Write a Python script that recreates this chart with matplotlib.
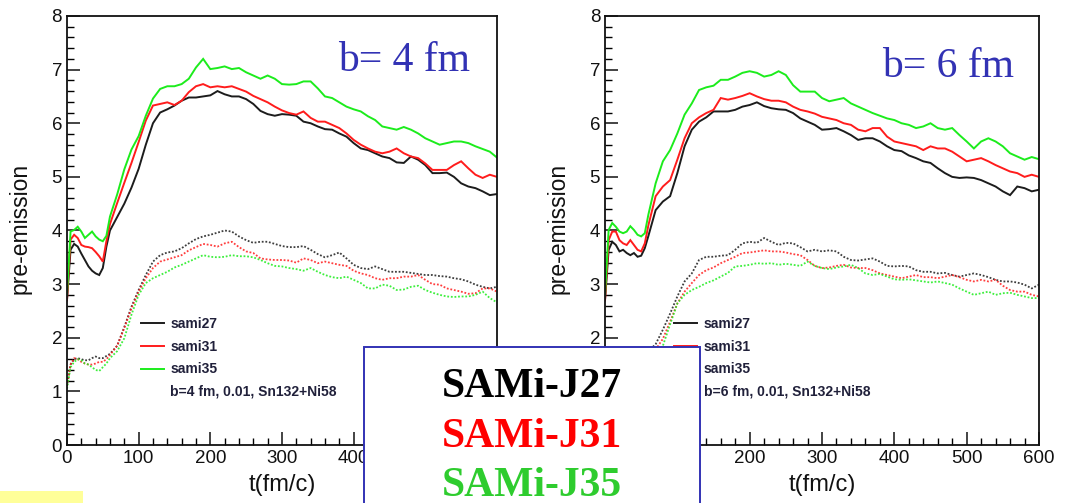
import matplotlib
matplotlib.use("Agg")
import matplotlib.pyplot as plt
from matplotlib.lines import Line2D
from matplotlib.patches import Rectangle
from matplotlib.ticker import MultipleLocator

# ---------------- data ----------------
t = [0, 5, 10, 15, 20, 25, 30, 35, 40, 45, 50, 55, 60,
     70, 80, 90, 100, 110, 120, 130, 140, 150, 160, 170, 180, 190, 200,
     210, 220, 230, 240, 250, 260, 270, 280, 290, 300, 310, 320, 330, 340,
     350, 360, 370, 380, 390, 400, 410, 420, 430, 440, 450, 460, 470, 480,
     490, 500, 510, 520, 530, 540, 550, 560, 570, 580, 590, 600]

# b = 4 fm, solid (upper) curves
b4_sami27 = [2.7, 3.64, 3.75, 3.7, 3.57, 3.45, 3.33, 3.25, 3.2, 3.17, 3.3, 3.7, 4.0,
             4.25, 4.5, 4.8, 5.15, 5.6, 6.0, 6.2, 6.26, 6.33, 6.42, 6.48, 6.48, 6.5, 6.52,
             6.6, 6.54, 6.5, 6.5, 6.45, 6.36, 6.23, 6.17, 6.14, 6.17, 6.16, 6.14, 6.03, 6.0,
             5.94, 5.89, 5.88, 5.81, 5.75, 5.63, 5.53, 5.5, 5.44, 5.38, 5.35, 5.27, 5.26, 5.38,
             5.32, 5.22, 5.07, 5.07, 5.08, 5.0, 4.88, 4.82, 4.79, 4.73, 4.66, 4.68]
b4_sami31 = [2.7, 3.83, 3.92, 3.86, 3.73, 3.7, 3.69, 3.67, 3.6, 3.52, 3.42, 3.8, 4.12,
             4.51, 4.89, 5.26, 5.65, 6.05, 6.33, 6.36, 6.39, 6.34, 6.42, 6.58, 6.69, 6.73, 6.67,
             6.69, 6.67, 6.69, 6.64, 6.59, 6.51, 6.45, 6.39, 6.31, 6.24, 6.19, 6.16, 6.22, 6.1,
             6.03, 6.03, 5.97, 5.91, 5.81, 5.69, 5.6, 5.53, 5.47, 5.44, 5.47, 5.53, 5.44, 5.38,
             5.35, 5.25, 5.13, 5.13, 5.13, 5.22, 5.29, 5.16, 5.04, 4.98, 5.04, 5.0]
b4_sami35 = [2.8, 3.98, 4.01, 4.07, 3.98, 3.86, 3.92, 3.98, 3.89, 3.83, 3.8, 3.9, 4.26,
             4.67, 5.14, 5.51, 5.76, 6.14, 6.46, 6.64, 6.69, 6.69, 6.73, 6.83, 7.04, 7.2, 7.01,
             7.03, 7.06, 7.01, 7.03, 6.95, 6.89, 6.83, 6.89, 6.83, 6.73, 6.72, 6.73, 6.78, 6.78,
             6.65, 6.5, 6.47, 6.39, 6.31, 6.26, 6.22, 6.13, 6.06, 5.94, 5.91, 5.88, 5.93, 5.88,
             5.81, 5.72, 5.66, 5.6, 5.63, 5.66, 5.66, 5.63, 5.57, 5.52, 5.47, 5.36]
# b = 4 fm, dotted (lower) curves
b4_sami27_low = [1.1, 1.5, 1.6, 1.62, 1.6, 1.58, 1.58, 1.62, 1.65, 1.62, 1.62, 1.66, 1.7,
                 1.85, 2.2, 2.58, 2.89, 3.17, 3.42, 3.54, 3.59, 3.61, 3.67, 3.76, 3.84, 3.89, 3.92,
                 3.96, 4.0, 3.98, 3.89, 3.82, 3.77, 3.79, 3.79, 3.75, 3.71, 3.69, 3.69, 3.71, 3.64,
                 3.56, 3.5, 3.54, 3.59, 3.48, 3.36, 3.3, 3.28, 3.33, 3.28, 3.23, 3.23, 3.23, 3.21,
                 3.19, 3.17, 3.17, 3.15, 3.14, 3.11, 3.09, 3.05, 2.99, 2.95, 2.92, 2.95]
b4_sami31_low = [1.1, 1.5, 1.62, 1.6, 1.55, 1.52, 1.5, 1.5, 1.52, 1.55, 1.55, 1.6, 1.68,
                 1.85, 2.18, 2.55, 2.86, 3.11, 3.3, 3.42, 3.46, 3.5, 3.54, 3.63, 3.69, 3.75, 3.73,
                 3.7, 3.76, 3.79, 3.69, 3.61, 3.58, 3.48, 3.46, 3.45, 3.45, 3.44, 3.4, 3.48, 3.45,
                 3.39, 3.42, 3.39, 3.36, 3.34, 3.25, 3.2, 3.17, 3.11, 3.08, 3.11, 3.11, 3.14, 3.14,
                 3.17, 3.08, 3.0, 2.99, 2.92, 2.89, 2.86, 2.82, 2.83, 2.92, 2.92, 2.86]
b4_sami35_low = [1.05, 1.45, 1.55, 1.6, 1.58, 1.52, 1.5, 1.45, 1.4, 1.38, 1.45, 1.52, 1.62,
                 1.75, 1.99, 2.43, 2.8, 3.02, 3.11, 3.17, 3.23, 3.31, 3.36, 3.42, 3.48, 3.54, 3.51,
                 3.5, 3.51, 3.54, 3.52, 3.52, 3.5, 3.45, 3.39, 3.34, 3.33, 3.3, 3.28, 3.25, 3.3,
                 3.23, 3.17, 3.13, 3.11, 3.14, 3.08, 3.02, 2.92, 2.92, 2.99, 2.97, 2.89, 2.9, 2.95,
                 2.97, 2.89, 2.84, 2.8, 2.77, 2.76, 2.77, 2.77, 2.8, 2.86, 2.74, 2.66]

# b = 6 fm, solid (upper) curves
b6_sami27 = [2.7, 3.64, 3.79, 3.73, 3.61, 3.64, 3.58, 3.54, 3.58, 3.51, 3.53, 3.67, 3.9,
             4.38, 4.54, 4.64, 5.07, 5.57, 5.88, 6.03, 6.11, 6.22, 6.22, 6.22, 6.25, 6.31, 6.34,
             6.39, 6.32, 6.28, 6.26, 6.25, 6.19, 6.09, 6.03, 5.97, 5.88, 5.89, 5.91, 5.85, 5.78,
             5.69, 5.72, 5.72, 5.66, 5.57, 5.5, 5.48, 5.4, 5.35, 5.29, 5.26, 5.16, 5.07, 5.0,
             4.98, 4.99, 4.98, 4.94, 4.88, 4.82, 4.73, 4.66, 4.82, 4.79, 4.73, 4.76]
b6_sami31 = [2.7, 3.82, 3.98, 3.98, 3.82, 3.76, 3.73, 3.82, 3.73, 3.64, 3.61, 3.76, 4.1,
             4.64, 4.82, 4.94, 5.32, 5.72, 6.0, 6.11, 6.19, 6.25, 6.47, 6.44, 6.47, 6.51, 6.56,
             6.5, 6.45, 6.42, 6.42, 6.39, 6.31, 6.25, 6.22, 6.18, 6.12, 6.09, 6.06, 6.0, 5.97,
             5.88, 5.85, 5.91, 5.91, 5.75, 5.66, 5.63, 5.6, 5.57, 5.5, 5.57, 5.53, 5.53, 5.47,
             5.38, 5.29, 5.32, 5.35, 5.29, 5.22, 5.16, 5.1, 5.07, 5.0, 5.04, 5.0]
b6_sami35 = [2.8, 4.01, 4.14, 4.07, 3.98, 3.95, 3.98, 4.08, 4.01, 3.92, 3.89, 3.95, 4.3,
             4.88, 5.29, 5.5, 5.81, 6.16, 6.37, 6.62, 6.67, 6.7, 6.81, 6.81, 6.87, 6.94, 6.97,
             6.94, 6.87, 6.9, 6.97, 6.9, 6.71, 6.59, 6.59, 6.59, 6.47, 6.41, 6.44, 6.47, 6.37,
             6.31, 6.25, 6.19, 6.14, 6.09, 6.06, 6.0, 5.97, 5.91, 5.94, 6.0, 5.91, 5.88, 5.91,
             5.78, 5.66, 5.53, 5.66, 5.72, 5.66, 5.57, 5.44, 5.38, 5.32, 5.37, 5.33]
# b = 6 fm, dotted (lower) curves
b6_sami27_low = [1.1, 1.5, 1.6, 1.62, 1.6, 1.6, 1.62, 1.64, 1.66, 1.68, 1.7, 1.72, 1.75,
                 1.88, 2.15, 2.45, 2.77, 3.05, 3.2, 3.45, 3.51, 3.51, 3.53, 3.54, 3.64, 3.76, 3.79,
                 3.77, 3.86, 3.79, 3.73, 3.77, 3.76, 3.69, 3.61, 3.64, 3.61, 3.63, 3.61, 3.51, 3.45,
                 3.44, 3.46, 3.48, 3.42, 3.34, 3.33, 3.34, 3.33, 3.26, 3.23, 3.23, 3.2, 3.21, 3.17,
                 3.14, 3.17, 3.2, 3.17, 3.13, 3.08, 3.05, 3.05, 3.03, 2.99, 2.92, 2.99]
b6_sami31_low = [1.1, 1.45, 1.55, 1.55, 1.52, 1.52, 1.55, 1.56, 1.58, 1.6, 1.62, 1.65, 1.68,
                 1.78, 1.98, 2.3, 2.64, 2.86, 3.02, 3.17, 3.26, 3.31, 3.39, 3.45, 3.51, 3.58, 3.59,
                 3.61, 3.63, 3.61, 3.61, 3.59, 3.56, 3.54, 3.45, 3.34, 3.3, 3.31, 3.34, 3.36, 3.31,
                 3.3, 3.3, 3.26, 3.2, 3.17, 3.14, 3.11, 3.14, 3.17, 3.13, 3.13, 3.11, 3.14, 3.17,
                 3.13, 3.08, 3.05, 3.08, 3.05, 3.08, 2.97, 2.89, 2.86, 2.86, 2.8, 2.77]
b6_sami35_low = [1.05, 1.4, 1.5, 1.52, 1.5, 1.48, 1.48, 1.5, 1.52, 1.55, 1.58, 1.6, 1.62,
                 1.7, 1.85, 2.25, 2.64, 2.8, 2.89, 2.95, 3.02, 3.07, 3.14, 3.21, 3.33, 3.34, 3.36,
                 3.39, 3.38, 3.39, 3.36, 3.38, 3.36, 3.34, 3.42, 3.34, 3.3, 3.28, 3.31, 3.33, 3.36,
                 3.3, 3.2, 3.17, 3.19, 3.14, 3.09, 3.08, 3.09, 3.07, 3.05, 3.03, 3.05, 3.02, 2.99,
                 2.92, 2.86, 2.8, 2.83, 2.86, 2.8, 2.83, 2.84, 2.8, 2.77, 2.74, 2.74]

series_names = ["sami27", "sami31", "sami35"]
box_labels = ["SAMi-J27", "SAMi-J31", "SAMi-J35"]
panel_titles = ["b= 4 fm", "b= 6 fm"]
panel_notes = ["b=4 fm, 0.01, Sn132+Ni58", "b=6 fm, 0.01, Sn132+Ni58"]
x_ticks = [0, 100, 200, 300, 400, 500, 600]
y_ticks = [0, 1, 2, 3, 4, 5, 6, 7, 8]

# ---------------- style ----------------
line_colors = ["#1c1c1c", "#ff1c1c", "#1cec1c"]
box_colors = ["#000000", "#ff0000", "#2ecc2e"]
blue = "#3232b4"
sans = "Liberation Sans"
serif = "Liberation Serif"

fig = plt.figure(figsize=(10.75, 5.03), dpi=100)
fig.patch.set_facecolor("white")

ax_l = fig.add_axes([0.0623, 0.1153, 0.4000, 0.8529])
ax_r = fig.add_axes([0.5628, 0.1153, 0.4037, 0.8529])

panels = [
    (ax_l, [b4_sami27, b4_sami31, b4_sami35], [b4_sami27_low, b4_sami31_low, b4_sami35_low]),
    (ax_r, [b6_sami27, b6_sami31, b6_sami35], [b6_sami27_low, b6_sami31_low, b6_sami35_low]),
]

title_pos = [(0.785, 0.872), (0.79, 0.858)]
legend_anchor = [(0.172, 0.298), (0.160, 0.298)]

for i, (ax, upper, lower) in enumerate(panels):
    for ys, c in zip(upper, line_colors):
        ax.plot(t, ys, color=c, lw=1.4, solid_joinstyle="miter")
    for ys, c in zip(lower, line_colors):
        ax.plot(t, ys, color=c, lw=1.3, linestyle=(0, (1.0, 1.0)), alpha=0.85)
    ax.set_xlim(0, 600)
    ax.set_ylim(0, 8)
    ax.set_xticks(x_ticks)
    ax.set_yticks(y_ticks)
    ax.xaxis.set_minor_locator(MultipleLocator(20))
    ax.yaxis.set_minor_locator(MultipleLocator(0.2))
    ax.tick_params(which="major", direction="in", length=9.5, width=1.1,
                   top=False, right=False, labelsize=13.5, pad=3.5, colors="#111111")
    ax.tick_params(which="minor", direction="in", length=5, width=1.0,
                   top=False, right=False)
    for lab in ax.get_xticklabels() + ax.get_yticklabels():
        lab.set_fontfamily(sans)
    for sp in ax.spines.values():
        sp.set_linewidth(1.3)
        sp.set_color("#111111")
    ax.set_xlabel("t(fm/c)", fontsize=17, family=sans, color="#111111")
    ax.xaxis.set_label_coords(0.5, -0.068)
    ax.set_ylabel("pre-emission", fontsize=16.5, family=sans, color="#111111")
    ax.yaxis.set_label_coords(-0.082, 0.505)

    ax.text(title_pos[i][0], title_pos[i][1], panel_titles[i], transform=ax.transAxes,
            ha="center", va="baseline", fontsize=30, family=serif, color=blue)

    handles = [Line2D([], [], color=c, lw=1.4) for c in line_colors]
    handles.append(Line2D([], [], color="none", lw=0))
    leg = ax.legend(handles, series_names + [panel_notes[i]], loc="upper left",
                    bbox_to_anchor=legend_anchor[i], frameon=False,
                    prop={"family": sans, "weight": "bold", "size": 10},
                    handlelength=1.65, handletextpad=0.45, labelspacing=0.62,
                    borderpad=0, borderaxespad=0)
    for txt in leg.get_texts():
        txt.set_color("#20203a")

# central box with model names
box = Rectangle((0.3386, -0.05), 0.6512 - 0.3386, 0.3101 + 0.05,
                transform=fig.transFigure, facecolor="white", edgecolor=blue,
                lw=1.4, zorder=5)
fig.patches.append(box)
box_baselines = [1 - 397 / 503, 1 - 447 / 503, 1 - 496 / 503]
for lab, c, yb in zip(box_labels, box_colors, box_baselines):
    fig.text(0.4945, yb, lab, ha="center", va="baseline", fontsize=30,
             family=serif, weight="bold", color=c, zorder=6)

# yellow strip at lower left
fig.patches.append(Rectangle((0, 0), 83 / 1075, 12 / 503, transform=fig.transFigure,
                             facecolor="#ffff99", edgecolor="none", zorder=5))

fig.savefig("out.png", dpi=100)
